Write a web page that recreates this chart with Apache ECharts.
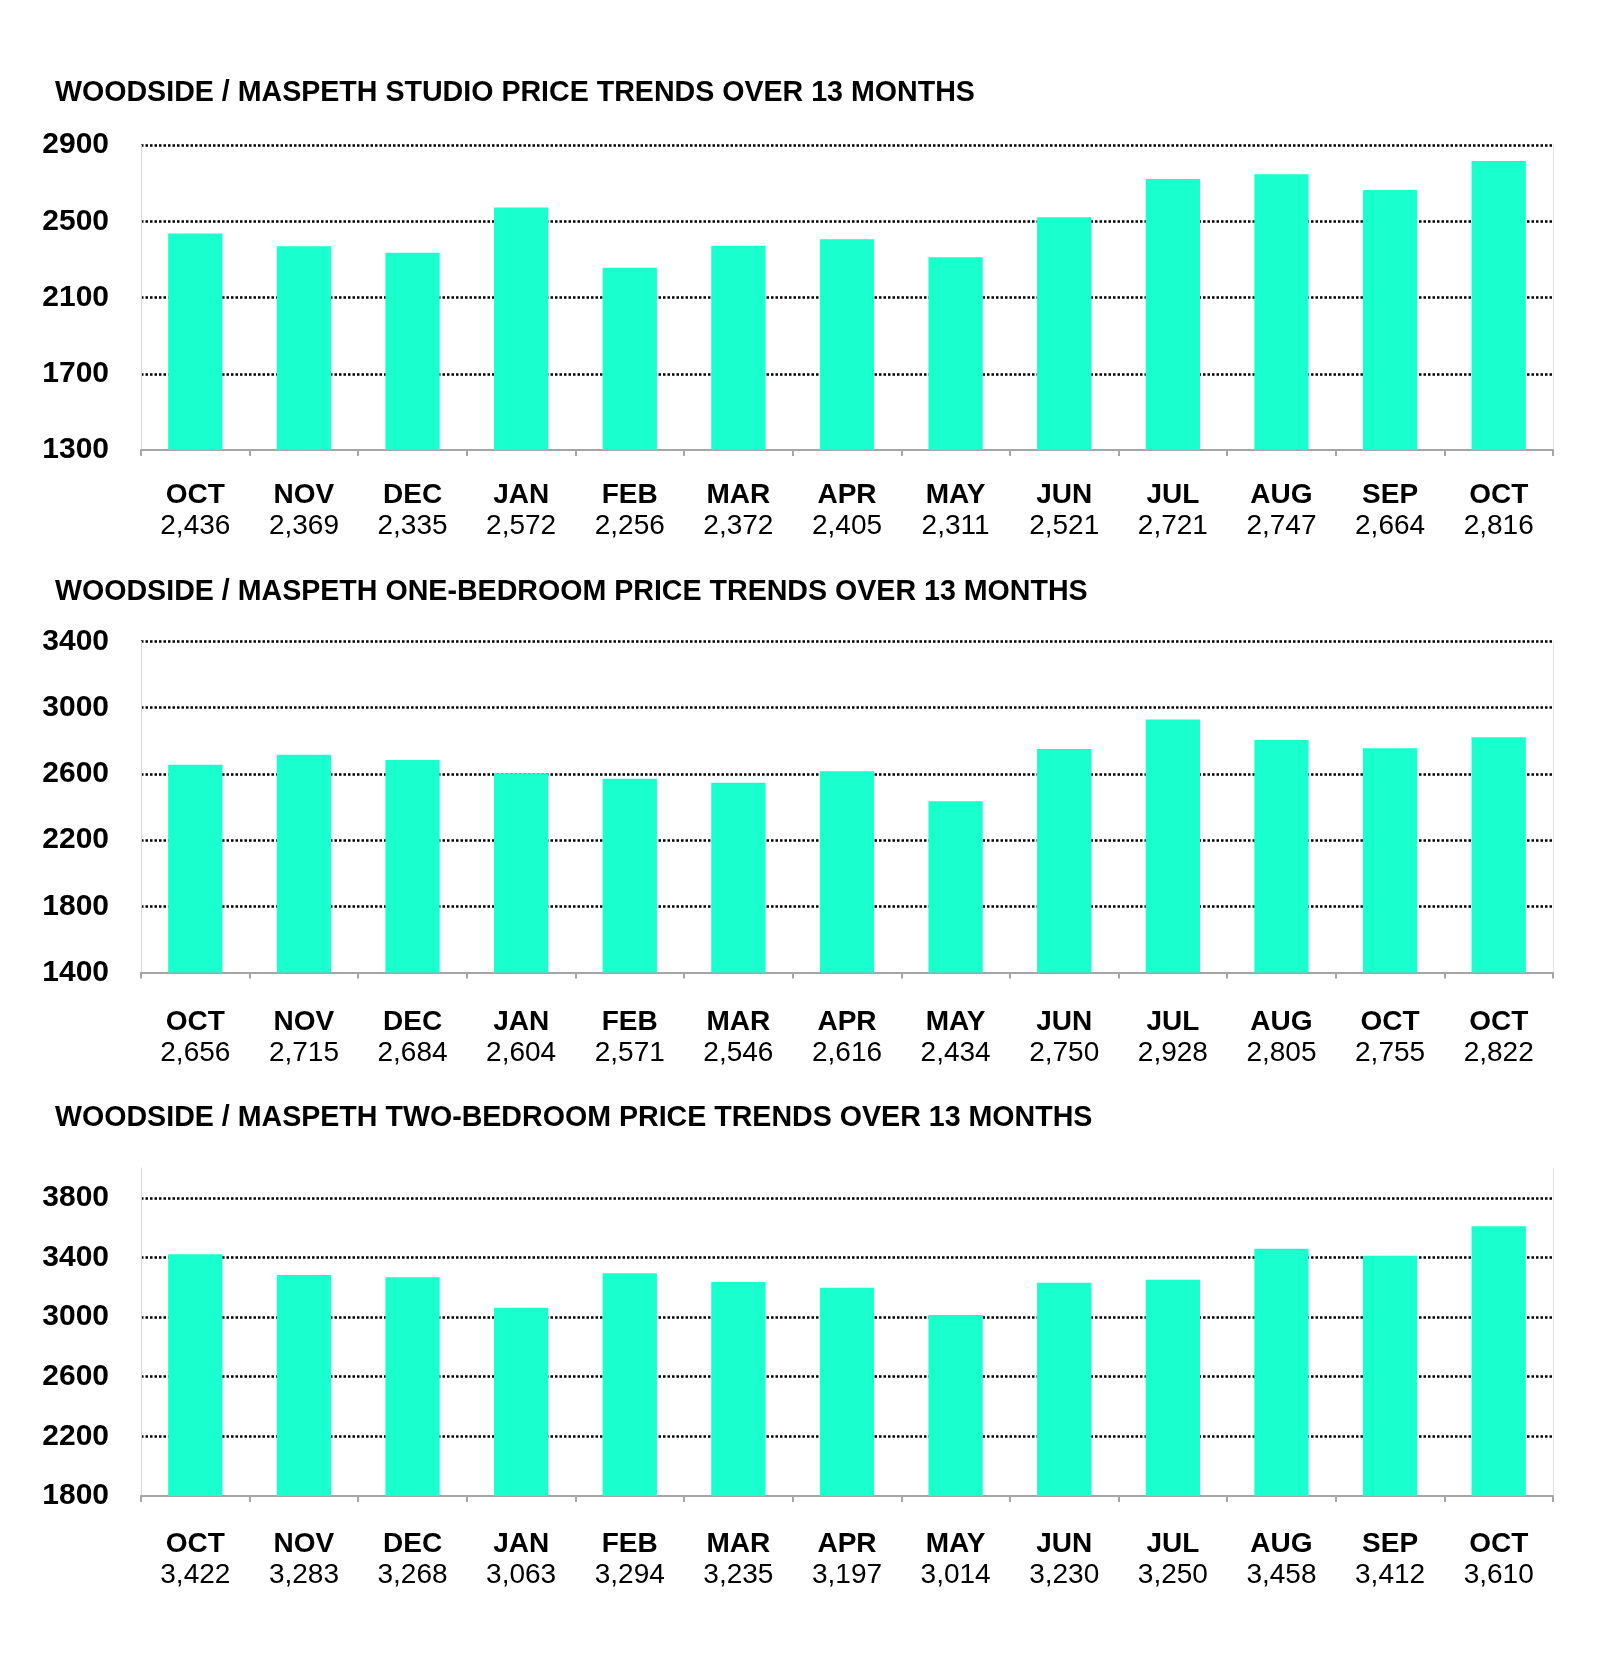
<!DOCTYPE html>
<html><head><meta charset="utf-8">
<script src="https://cdn.jsdelivr.net/npm/echarts@6/dist/echarts.min.js"></script>
<style>html,body{margin:0;padding:0;background:#fff}#c{width:1600px;height:1663px}</style>
</head><body><div id="c"></div>
<script>
const titles = [
  'WOODSIDE / MASPETH STUDIO PRICE TRENDS OVER 13 MONTHS',
  'WOODSIDE / MASPETH ONE-BEDROOM PRICE TRENDS OVER 13 MONTHS',
  'WOODSIDE / MASPETH TWO-BEDROOM PRICE TRENDS OVER 13 MONTHS'
];
const monthsStudio = ['OCT','NOV','DEC','JAN','FEB','MAR','APR','MAY','JUN','JUL','AUG','SEP','OCT'];
const monthsOneBed = ['OCT','NOV','DEC','JAN','FEB','MAR','APR','MAY','JUN','JUL','AUG','OCT','OCT'];
const monthsTwoBed = ['OCT','NOV','DEC','JAN','FEB','MAR','APR','MAY','JUN','JUL','AUG','SEP','OCT'];
const studio = [2436,2369,2335,2572,2256,2372,2405,2311,2521,2721,2747,2664,2816];
const oneBed = [2656,2715,2684,2604,2571,2546,2616,2434,2750,2928,2805,2755,2822];
const twoBed = [3422,3283,3268,3063,3294,3235,3197,3014,3230,3250,3458,3412,3610];
const axisStudio = {min:1300, max:2900, interval:400};
const axisOneBed = {min:1400, max:3400, interval:400};
const axisTwoBed = {min:1800, max:4000, interval:400};

const FONT = "'Liberation Sans', Arial, sans-serif";
const BAR = '#1AFFCE';
const charts = [
  {title:titles[0], cats:monthsStudio, vals:studio, ax:axisStudio, top:145, height:305, titleTop:73, margin:30},
  {title:titles[1], cats:monthsOneBed, vals:oneBed, ax:axisOneBed, top:641.5, height:331, titleTop:572, margin:34},
  {title:titles[2], cats:monthsTwoBed, vals:twoBed, ax:axisTwoBed, top:1168, height:328, titleTop:1098, margin:33}
];

const option = {
  backgroundColor:'#fff',
  animation:false,
  title:[], grid:[], xAxis:[], yAxis:[], series:[]
};
charts.forEach((c,i)=>{
  const even = (c.ax.max - c.ax.min) % c.ax.interval === 0;
  option.title.push({text:c.title, left:50, top:c.titleTop,
    textStyle:{fontFamily:FONT, fontWeight:'bold', fontSize:28.6, color:'#000', lineHeight:30}});
  option.grid.push({left:141, width:1412, top:c.top, height:c.height, containLabel:false});
  option.xAxis.push({type:'category', gridIndex:i, data:c.cats,
    axisLine:{show:true, lineStyle:{color:'#a6a6a6', width:2}},
    axisTick:{show:true, alignWithLabel:false, length:6, lineStyle:{color:'#a6a6a6', width:2}},
    axisLabel:{interval:0, margin:c.margin, fontFamily:FONT,
      formatter:(v,idx)=>'{m|'+v+'}\n{v|'+c.vals[idx].toLocaleString('en-US')+'}',
      rich:{m:{fontFamily:FONT, fontWeight:'bold', fontSize:28, color:'#000', lineHeight:31},
            v:{fontFamily:FONT, fontSize:28, color:'#000', lineHeight:31}}},
    splitLine:{show:false}});
  option.yAxis.push({type:'value', gridIndex:i, min:c.ax.min, max:c.ax.max, interval:c.ax.interval,
    axisLine:{show:true, lineStyle:{color:'#d9d9d9', width:1}},
    axisTick:{show:false},
    axisLabel:{margin:32, fontFamily:FONT, fontWeight:'bold', fontSize:30, color:'#000',
      showMaxLabel:even, formatter:(v)=>String(v)},
    splitLine:{show:true, showMinLine:false, showMaxLine:even,
      lineStyle:{color:'#000', width:2.5, type:[2.5,2]}}});
  option.yAxis.push({type:'value', gridIndex:i, position:'right', min:c.ax.min, max:c.ax.max, interval:c.ax.interval,
    axisLine:{show:true, lineStyle:{color:'#e3e3e3', width:1}},
    axisTick:{show:false}, axisLabel:{show:false}, splitLine:{show:false}});
  option.series.push({type:'bar', xAxisIndex:i, yAxisIndex:i*2, data:c.vals, barWidth:'50%',
    itemStyle:{color:BAR}});
});
const chart = echarts.init(document.getElementById('c'), null, {renderer:'canvas', width:1600, height:1663});
chart.setOption(option);
</script></body></html>
